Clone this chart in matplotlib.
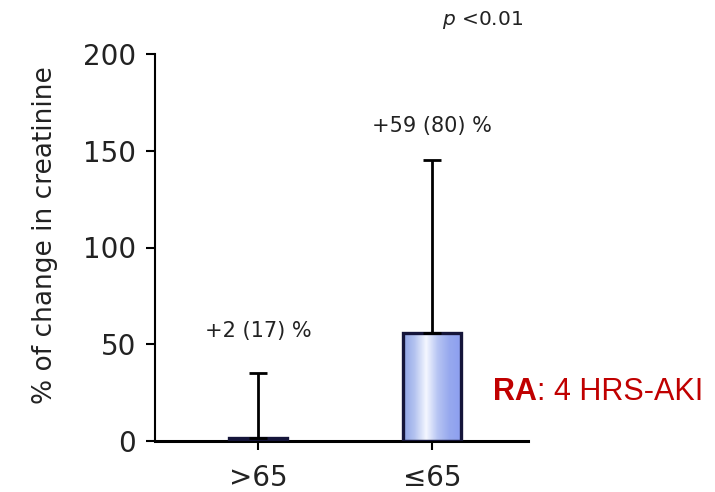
import numpy as np
import matplotlib
matplotlib.use('Agg')
import matplotlib.pyplot as plt
from matplotlib.colors import LinearSegmentedColormap

plt.rcParams['font.family'] = ['DejaVu Sans']

# Data
groups = ['>65', '≤65']
means = [1.5, 56]
err_up = [33.5, 89]
labels = ['+2 (17) %', '+59 (80) %']

fig = plt.figure(figsize=(7.15, 4.92), dpi=100)
ax = fig.add_axes([155 / 715, 51 / 492, 373 / 715, 387 / 492])

x = np.arange(len(groups))
bars = ax.bar(x, means, width=0.333, color='none', edgecolor='#15153a',
              linewidth=2.4, zorder=3)

# horizontal gradient fill clipped to each bar
cmap = LinearSegmentedColormap.from_list(
    'bar', ['#8ea3e6', '#b4c3f0', '#f4f7ff', '#b6c4f3', '#97a9ee', '#8d9ff0'])
grad = np.linspace(0, 1, 256).reshape(1, -1)
for b in bars:
    bx, by = b.get_x(), b.get_y()
    im = ax.imshow(grad, cmap=cmap, aspect='auto', zorder=2,
                   extent=[bx, bx + b.get_width(), by, by + b.get_height()])
    im.set_clip_path(b)

ax.errorbar(x, means, yerr=[[0, 0], err_up], fmt='none', ecolor='black',
            elinewidth=2, capsize=6.5, capthick=2, zorder=4)

ax.set_xlim(-0.592, 1.552)
ax.set_ylim(0, 200)
ax.set_yticks([0, 50, 100, 150, 200])
ax.set_xticks(x)
ax.set_xticklabels(groups)
ax.tick_params(axis='both', labelsize=20, width=1.5, length=6.5,
               colors='black', labelcolor='#222222', pad=7)
ax.tick_params(axis='x', pad=10)
for s in ['top', 'right']:
    ax.spines[s].set_visible(False)
ax.spines['left'].set_linewidth(1.5)
ax.spines['bottom'].set_linewidth(2.2)
ax.set_ylabel('% of change in creatinine', fontsize=19, color='#222222')
ax.yaxis.set_label_coords(-0.295, 0.532)
ax.yaxis.label.set_va('center')

# value annotations
label_y = [57, 163]
for xi, txt, ly in zip(x, labels, label_y):
    ax.text(xi, ly, txt, ha='center', va='center', fontsize=15,
            color='#222222')

fig.text(442 / 715, 1 - 20 / 492, '$p$ <0.01', ha='left', va='center',
         fontsize=14.5, color='#222222')

ra = fig.text(493 / 715, 1 - 392 / 492, 'RA', ha='left', va='center',
              fontsize=22, color='#c00000', fontweight='bold',
              family=['Liberation Sans', 'DejaVu Sans'])
ax.annotate(': 4 HRS-AKI', xy=(1, 0), xycoords=ra, ha='left', va='bottom',
            fontsize=22, color='#c00000',
            family=['Liberation Sans', 'DejaVu Sans'], annotation_clip=False)

fig.savefig('out.png', dpi=100)
